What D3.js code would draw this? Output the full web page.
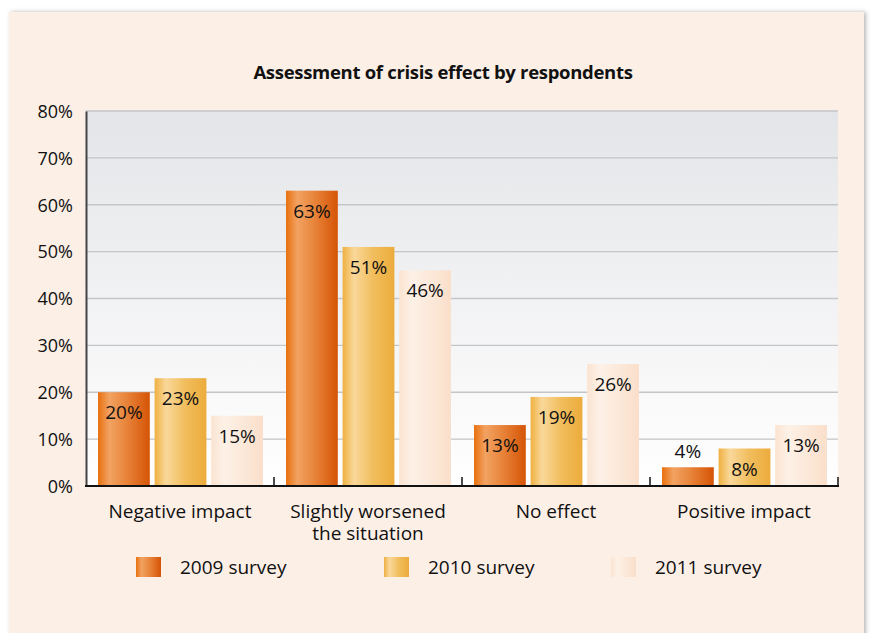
<!DOCTYPE html>
<html>
<meta charset="utf-8">
<script src="https://cdn.jsdelivr.net/npm/d3@7/dist/d3.min.js"></script>
<title>Assessment of crisis effect by respondents</title>
<style>
  body { margin: 0; background: #fff; }
  text { font-family: "Open Sans", "Noto Sans", sans-serif; fill: #111; }
</style>
<body>
<script type="text/javascript">

// data
var categories = [
    ["Negative impact"],
    ["Slightly worsened", "the situation"],
    ["No effect"],
    ["Positive impact"]
];
var series = ["2009 survey", "2010 survey", "2011 survey"];
var values2009 = [20, 63, 13, 4];
var values2010 = [23, 51, 19, 8];
var values2011 = [15, 46, 26, 13];
var yTicks = [0, 10, 20, 30, 40, 50, 60, 70, 80];

var allValues = [values2009, values2010, values2011];

var size = { width: 873, height: 633 };
var plot = { left: 86, right: 838, top: 111, bottom: 486 };

var svg = d3.select("body")
    .append("svg")
    .attr("width", size.width)
    .attr("height", size.height);

var defs = svg.append("defs");

// bar gradients (left -> right, highlight near left third)
var gradStops = [
    [["0%", "#e9700f"], ["22%", "#f2a262"], ["55%", "#e8843a"], ["100%", "#d55406"]],
    [["0%", "#efb041"], ["22%", "#f9d89a"], ["60%", "#f1bd5c"], ["100%", "#ecac3c"]],
    [["0%", "#fbe3d0"], ["25%", "#fdf1e7"], ["100%", "#fadfca"]]
];
gradStops.forEach(function(stops, i) {
    var g = defs.append("linearGradient")
        .attr("id", "bar" + i)
        .attr("x1", "0").attr("x2", "1").attr("y1", "0").attr("y2", "0");
    stops.forEach(function(s) {
        g.append("stop").attr("offset", s[0]).attr("stop-color", s[1]);
    });
});

var bg = defs.append("linearGradient")
    .attr("id", "plotbg")
    .attr("x1", "0").attr("x2", "0").attr("y1", "0").attr("y2", "1");
bg.append("stop").attr("offset", "0%").attr("stop-color", "#e4e5e8");
bg.append("stop").attr("offset", "100%").attr("stop-color", "#ffffff");

var sh = defs.append("filter").attr("id", "shadow")
    .attr("x", "-5%").attr("y", "-5%").attr("width", "110%").attr("height", "110%");
sh.append("feDropShadow").attr("dx", 2).attr("dy", 0).attr("stdDeviation", 2)
    .attr("flood-color", "#888").attr("flood-opacity", 0.6);

// panel
svg.append("rect")
    .attr("x", 9).attr("y", 12)
    .attr("width", 855).attr("height", 640)
    .attr("fill", "#fcefe6")
    .attr("filter", "url(#shadow)");

// title
svg.append("text")
    .attr("x", 443).attr("y", 79)
    .attr("text-anchor", "middle")
    .style("font-size", "18.5px")
    .style("font-weight", "bold")
    .style("letter-spacing", "-0.3px")
    .text("Assessment of crisis effect by respondents");

var yScale = d3.scaleLinear()
    .domain([0, 80])
    .range([plot.bottom, plot.top]);

var xScale = d3.scaleBand()
    .domain(d3.range(categories.length))
    .range([plot.left, plot.right])
    .padding(0);

var xInner = d3.scaleBand()
    .domain(d3.range(series.length))
    .range([12, xScale.bandwidth() - 11])
    .paddingInner(0.085);

// plot background
svg.append("rect")
    .attr("x", plot.left).attr("y", plot.top)
    .attr("width", plot.right - plot.left)
    .attr("height", plot.bottom - plot.top)
    .attr("fill", "url(#plotbg)");

// gridlines
svg.append("g")
    .selectAll("line")
    .data(yTicks.filter(function(d) { return d > 0; }))
    .enter().append("line")
    .attr("x1", plot.left).attr("x2", plot.right)
    .attr("y1", function(d) { return yScale(d); })
    .attr("y2", function(d) { return yScale(d); })
    .attr("stroke", "#c4c5c9")
    .attr("stroke-width", 1.3);

// y axis
var yAxis = svg.append("g")
    .attr("transform", "translate(" + plot.left + ",0)")
    .call(d3.axisLeft(yScale)
        .tickValues(yTicks)
        .tickSize(0)
        .tickPadding(13)
        .tickFormat(function(d) { return d + "%"; }));
yAxis.select(".domain")
    .attr("stroke", "#444")
    .attr("stroke-width", 2);
yAxis.selectAll("text")
    .style("font-size", "18px")
    .style("font-family", "\"Open Sans\", sans-serif")
    .attr("fill", "#111")
    .attr("dy", "0.35em");

// bars
var groups = svg.append("g")
    .selectAll(".group")
    .data(categories)
    .enter().append("g")
    .attr("class", "group")
    .attr("transform", function(d, i) { return "translate(" + xScale(i) + ",0)"; });

groups.each(function(cat, ci) {
    var g = d3.select(this);
    series.forEach(function(s, si) {
        var v = allValues[si][ci];
        var top = yScale(v);
        g.append("rect")
            .attr("x", xInner(si))
            .attr("y", top)
            .attr("width", xInner.bandwidth())
            .attr("height", yScale(0) - top)
            .attr("fill", "url(#bar" + si + ")");
        var inside = (yScale(0) - top) > 28;
        g.append("text")
            .attr("x", xInner(si) + xInner.bandwidth() / 2)
            .attr("y", inside ? top + 27 : top - 9)
            .attr("text-anchor", "middle")
            .style("font-size", "19px")
            .text(v + "%");
    });
});

// bottom axis
var xAxis = svg.append("g")
    .attr("transform", "translate(0," + plot.bottom + ")");
xAxis.append("line")
    .attr("x1", plot.left - 1).attr("x2", plot.right + 1)
    .attr("stroke", "#111").attr("stroke-width", 2);
xAxis.selectAll(".tick")
    .data(d3.range(1, categories.length + 1))
    .enter().append("line")
    .attr("class", "tick")
    .attr("x1", function(d) { return d < categories.length ? xScale(d) : plot.right; })
    .attr("x2", function(d) { return d < categories.length ? xScale(d) : plot.right; })
    .attr("y1", 0).attr("y2", -9)
    .attr("stroke", "#111").attr("stroke-width", 1.5);

// category labels
var catLabels = svg.append("g")
    .selectAll("text")
    .data(categories)
    .enter().append("text")
    .attr("x", function(d, i) { return xScale(i) + xScale.bandwidth() / 2; })
    .attr("y", 518)
    .attr("text-anchor", "middle")
    .style("font-size", "19px");
catLabels.each(function(lines) {
    var t = d3.select(this);
    lines.forEach(function(l, li) {
        t.append("tspan")
            .attr("x", t.attr("x"))
            .attr("dy", li === 0 ? 0 : 22)
            .text(l);
    });
});

// legend
var legendX = [136, 384, 611];
var legend = svg.append("g")
    .selectAll("g")
    .data(series)
    .enter().append("g")
    .attr("transform", function(d, i) { return "translate(" + legendX[i] + ",557)"; });
legend.append("rect")
    .attr("width", 25).attr("height", 20)
    .attr("fill", function(d, i) { return "url(#bar" + i + ")"; });
legend.append("text")
    .attr("x", 44).attr("y", 17)
    .style("font-size", "19px")
    .text(function(d) { return d; });

</script>
</body>
</html>
